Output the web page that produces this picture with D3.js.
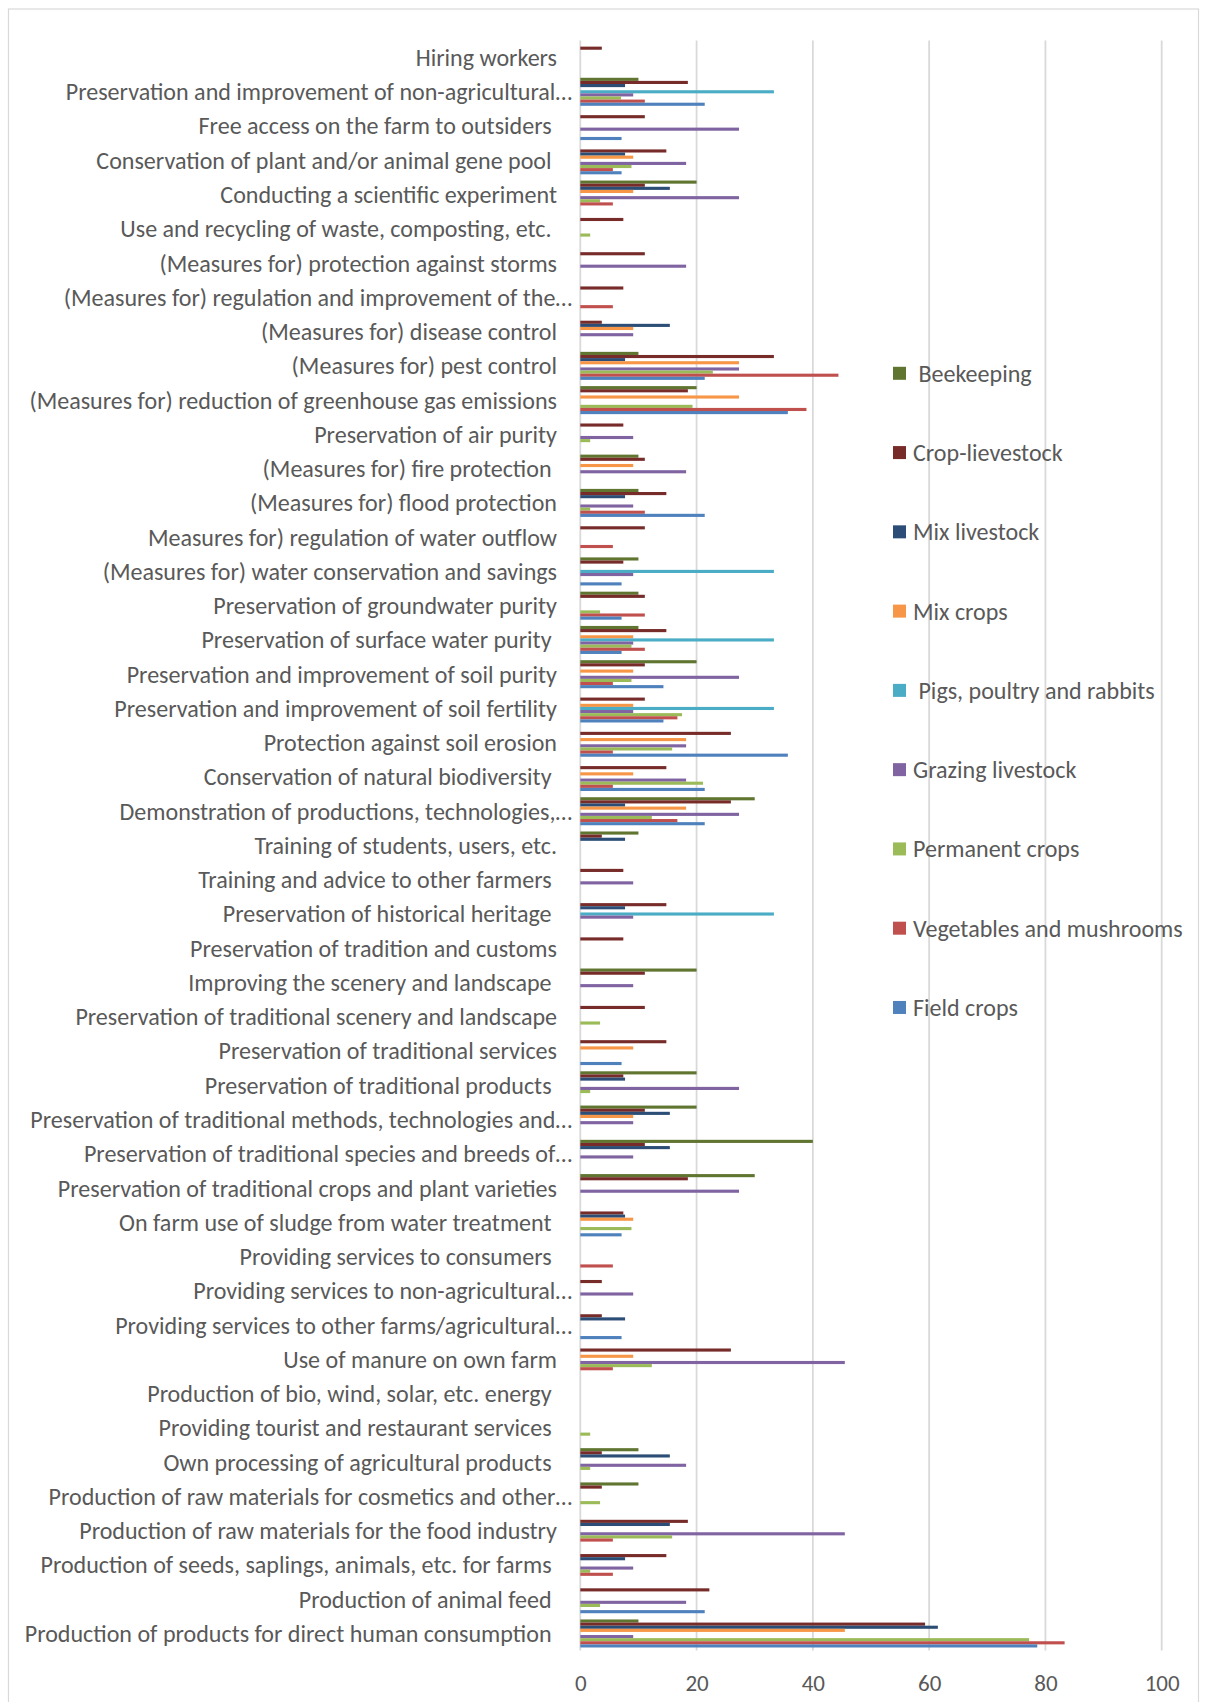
<!DOCTYPE html>
<html>
<head>
<meta charset="utf-8">
<script src="https://cdn.jsdelivr.net/npm/d3@7"></script>
<style>
  html, body { margin: 0; padding: 0; background: #fff; }
  svg text { font-family: Carlito, Lato, "Open Sans", sans-serif; white-space: pre; }
</style>
</head>
<body>
<svg id="chart" width="1208" height="1702"></svg>
<script>
// Categories, listed top to bottom as they appear on the chart
const categories = [
  "Hiring workers",
  "Preservation and improvement of non-agricultural\u2026",
  "Free access on the farm to outsiders ",
  "Conservation of plant and/or animal gene pool ",
  "Conducting a scientific experiment",
  "Use and recycling of waste, composting, etc. ",
  "(Measures for) protection against storms",
  "(Measures for) regulation and improvement of the\u2026",
  "(Measures for) disease control",
  "(Measures for) pest control",
  "(Measures for) reduction of greenhouse gas emissions",
  "Preservation of air purity",
  "(Measures for) fire protection ",
  "(Measures for) flood protection",
  "Measures for) regulation of water outflow",
  "(Measures for) water conservation and savings",
  "Preservation of groundwater purity",
  "Preservation of surface water purity ",
  "Preservation and improvement of soil purity",
  "Preservation and improvement of soil fertility",
  "Protection against soil erosion",
  "Conservation of natural biodiversity ",
  "Demonstration of productions, technologies,\u2026",
  "Training of students, users, etc.",
  "Training and advice to other farmers ",
  "Preservation of historical heritage ",
  "Preservation of tradition and customs",
  "Improving the scenery and landscape ",
  "Preservation of traditional scenery and landscape",
  "Preservation of traditional services",
  "Preservation of traditional products ",
  "Preservation of traditional methods, technologies and\u2026",
  "Preservation of traditional species and breeds of\u2026",
  "Preservation of traditional crops and plant varieties",
  "On farm use of sludge from water treatment ",
  "Providing services to consumers ",
  "Providing services to non-agricultural\u2026",
  "Providing services to other farms/agricultural\u2026",
  "Use of manure on own farm",
  "Production of bio, wind, solar, etc. energy ",
  "Providing tourist and restaurant services ",
  "Own processing of agricultural products ",
  "Production of raw materials for cosmetics and other\u2026",
  "Production of raw materials for the food industry",
  "Production of seeds, saplings, animals, etc. for farms ",
  "Production of animal feed ",
  "Production of products for direct human consumption "
];

// Share of farms (%) per farm type, one value per category above
const beekeeping    = [0,10,0,0,20,0,0,0,0,10,20,0,10,10,0,10,10,10,20,0,0,0,30,10,0,0,0,20,0,0,20,20,40,30,0,0,0,0,0,0,0,10,10,0,0,0,10];
const cropLivestock = [3.7,18.5,11.1,14.8,11.1,7.4,11.1,7.4,3.7,33.3,18.5,7.4,11.1,14.8,11.1,7.4,11.1,14.8,11.1,11.1,25.9,14.8,25.9,3.7,7.4,14.8,7.4,11.1,11.1,14.8,7.4,11.1,11.1,18.5,7.4,0,3.7,3.7,25.9,0,0,3.7,3.7,18.5,14.8,22.2,59.3];
const mixLivestock  = [0,7.7,0,7.7,15.4,0,0,0,15.4,7.7,0,0,0,7.7,0,0,0,0,0,0,0,0,7.7,7.7,0,7.7,0,0,0,0,7.7,15.4,15.4,0,7.7,0,0,7.7,0,0,0,15.4,0,15.4,7.7,0,61.5];
const mixCrops      = [0,0,0,9.1,9.1,0,0,0,9.1,27.3,27.3,0,9.1,0,0,0,0,9.1,9.1,9.1,18.2,9.1,18.2,0,0,0,0,0,0,9.1,0,9.1,0,0,9.1,0,0,0,9.1,0,0,0,0,0,0,0,45.5];
const pigsPoultry   = [0,33.3,0,0,0,0,0,0,0,0,0,0,0,0,0,33.3,0,33.3,0,33.3,0,0,0,0,0,33.3,0,0,0,0,0,0,0,0,0,0,0,0,0,0,0,0,0,0,0,0,0];
const grazing       = [0,9.1,27.3,18.2,27.3,0,18.2,0,9.1,27.3,0,9.1,18.2,9.1,0,9.1,0,9.1,27.3,9.1,18.2,18.2,27.3,0,9.1,9.1,0,9.1,0,0,27.3,9.1,9.1,27.3,0,0,9.1,0,45.5,0,0,18.2,0,45.5,9.1,18.2,9.1];
const permanent     = [0,7.0,0,8.8,3.4,1.7,0,0,0,22.8,19.3,1.7,0,1.7,0,0,3.4,8.8,8.8,17.5,15.8,21.1,12.3,0,0,0,0,0,3.4,0,1.7,0,0,0,8.8,0,0,0,12.3,0,1.7,1.7,3.4,15.8,1.7,3.4,77.2];
const vegetables    = [0,11.1,0,5.6,5.6,0,0,5.6,0,44.4,38.9,0,0,11.1,5.6,0,11.1,11.1,5.6,16.7,5.6,5.6,16.7,0,0,0,0,0,0,0,0,0,0,0,0,5.6,0,0,5.6,0,0,0,0,5.6,5.6,0,83.3];
const fieldCrops    = [0,21.4,7.1,7.1,0,0,0,0,0,21.4,35.7,0,0,21.4,0,7.1,7.1,7.1,14.3,14.3,35.7,21.4,21.4,0,0,0,0,0,0,7.1,0,0,0,0,7.1,0,0,7.1,0,0,0,0,0,0,0,21.4,78.6];

// Series, in the order they stack inside each group (top to bottom) and in the legend
const seriesNames = [
  " Beekeeping",
  "Crop-lievestock",
  "Mix livestock",
  "Mix crops",
  " Pigs, poultry and rabbits",
  "Grazing livestock",
  "Permanent crops",
  "Vegetables and mushrooms",
  "Field crops"
];
const seriesValues = [beekeeping, cropLivestock, mixLivestock, mixCrops, pigsPoultry, grazing, permanent, vegetables, fieldCrops];
const seriesColors = ["#5F7530", "#772C2A", "#2C4D75", "#F79646", "#4BACC6", "#8064A2", "#9BBB59", "#C0504D", "#4F81BD"];

const xTicks = [0, 20, 40, 60, 80, 100];

// ---- layout ----
const svg = d3.select("#chart");
const plot = { left: 580.3, right: 1161.7, top: 40.4, bottom: 1650.6 };
const textColor = "#595959";

const x = d3.scaleLinear().domain([0, 100]).range([plot.left, plot.right]);
const y = d3.scaleBand()
  .domain(d3.range(categories.length))
  .range([plot.top, plot.bottom])
  .padding(0);
const ySub = d3.scaleBand()
  .domain(d3.range(seriesNames.length))
  .range([0, y.bandwidth()])
  .paddingInner(0)
  .paddingOuter(1.0);

// chart frame
svg.append("rect")
  .attr("x", 8.5).attr("y", 9)
  .attr("width", 1190).attr("height", 1720)
  .attr("fill", "none")
  .attr("stroke", "#D9D9D9")
  .attr("stroke-width", 1.2);

// size the text so the longest label fills its measured width
function fitSize(str, target, base) {
  const t = svg.append("text").attr("font-size", base).text(str);
  const w = t.node().getComputedTextLength();
  t.remove();
  return base * target / w;
}
const labelSize = fitSize("Production of products for direct human consumption", 527, 20);
const tickSize = fitSize("100", 35, 20);

// vertical gridlines
svg.append("g").selectAll("line")
  .data(xTicks)
  .join("line")
  .attr("x1", d => x(d)).attr("x2", d => x(d))
  .attr("y1", plot.top).attr("y2", plot.bottom)
  .attr("stroke", "#D9D9D9")
  .attr("stroke-width", 1.8);

// bars
const rows = categories.map((c, i) => ({ i, values: seriesValues.map(s => s[i]) }));
const groups = svg.append("g").selectAll("g")
  .data(rows)
  .join("g")
  .attr("transform", d => `translate(0,${y(d.i)})`);

groups.selectAll("rect")
  .data(d => d.values.map((v, s) => ({ s, v })).filter(e => e.v > 0))
  .join("rect")
  .attr("x", x(0))
  .attr("y", d => ySub(d.s))
  .attr("width", d => x(d.v) - x(0))
  .attr("height", ySub.bandwidth())
  .attr("fill", d => seriesColors[d.s]);

// x axis tick labels
const xAxis = svg.append("g")
  .attr("transform", `translate(0,${plot.bottom})`)
  .call(d3.axisBottom(x).tickValues(xTicks).tickSize(0).tickFormat(d3.format("d")));
xAxis.select(".domain").remove();
xAxis.selectAll("text")
  .attr("y", 1683 - plot.bottom)
  .attr("dy", "0.35em")
  .attr("fill", textColor)
  .attr("font-size", tickSize)
  .style("font-family", "Carlito, Lato, 'Open Sans', sans-serif");

// category labels
svg.append("g").selectAll("text")
  .data(categories)
  .join("text")
  .attr("x", d => d.endsWith("\u2026") ? 572 : 557)
  .attr("y", (d, i) => y(i) + y.bandwidth() / 2)
  .attr("dy", "0.35em")
  .attr("text-anchor", "end")
  .attr("font-size", labelSize)
  .attr("fill", textColor)
  .text(d => d);

// legend
const legendTop = 373.3, legendStep = 79.27;
const legend = svg.append("g").selectAll("g")
  .data(seriesNames)
  .join("g")
  .attr("transform", (d, i) => `translate(893,${legendTop + i * legendStep})`);
legend.append("rect")
  .attr("x", 0).attr("y", -6.5)
  .attr("width", 13).attr("height", 13)
  .attr("fill", (d, i) => seriesColors[i]);
legend.append("text")
  .attr("x", 20)
  .attr("dy", "0.35em")
  .attr("font-size", labelSize)
  .attr("fill", textColor)
  .text(d => d);
</script>
</body>
</html>
